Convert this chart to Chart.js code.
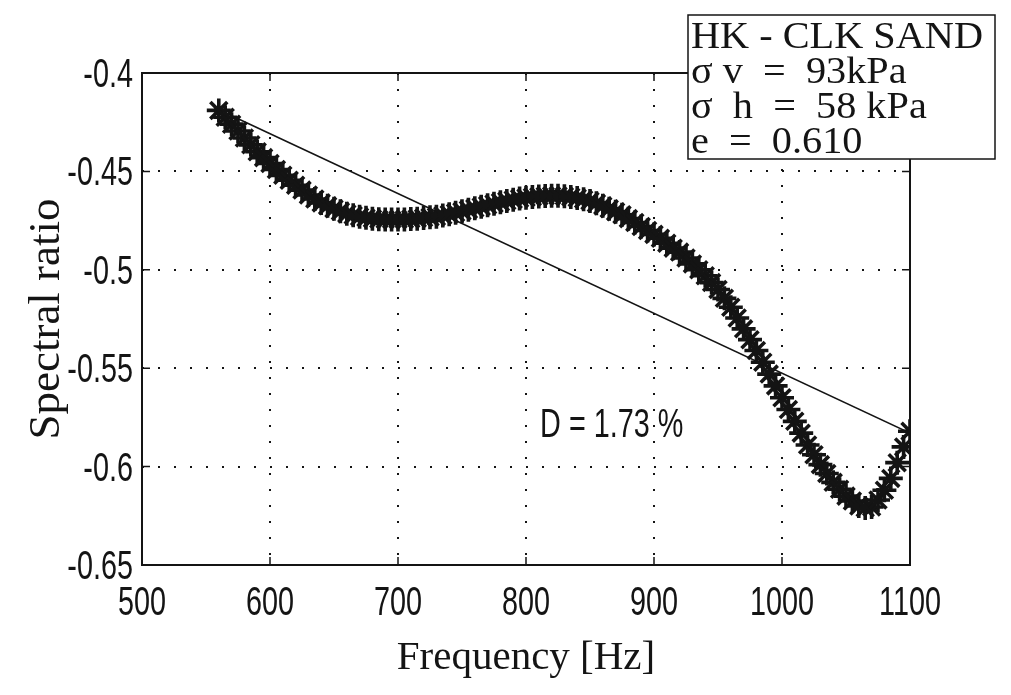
<!DOCTYPE html>
<html>
<head>
<meta charset="utf-8">
<script src="https://cdn.jsdelivr.net/npm/chart.js@4.4.1/dist/chart.umd.min.js"></script>
<style>
  html, body { margin: 0; padding: 0; background: #fff; }
  #wrap { width: 1011px; height: 695px; position: relative; }
</style>
</head>
<body>
<div id="wrap"><canvas id="c" width="1011" height="695"></canvas></div>
<script>
// ---- data ----
const frequency = [
  560, 565, 570, 575, 580, 585, 590, 595, 600, 605,
  610, 615, 620, 625, 630, 635, 640, 645, 650, 655,
  660, 665, 670, 675, 680, 685, 690, 695, 700, 705,
  710, 715, 720, 725, 730, 735, 740, 745, 750, 755,
  760, 765, 770, 775, 780, 785, 790, 795, 800, 805,
  810, 815, 820, 825, 830, 835, 840, 845, 850, 855,
  860, 865, 870, 875, 880, 885, 890, 895, 900, 905,
  910, 915, 920, 925, 930, 935, 940, 945, 950, 955,
  960, 965, 970, 975, 980, 985, 990, 995, 1000, 1005,
  1010, 1015, 1020, 1025, 1030, 1035, 1040, 1045, 1050, 1055,
  1060, 1065, 1070, 1075, 1080, 1085, 1090, 1095, 1100
];
const spectralRatio = [
  -0.419, -0.4225, -0.426, -0.4295, -0.433, -0.4365, -0.440, -0.443, -0.446, -0.449,
  -0.452, -0.4545, -0.457, -0.4595, -0.462, -0.464, -0.466, -0.4675, -0.469, -0.4703,
  -0.4715, -0.4723, -0.473, -0.4736, -0.474, -0.4743, -0.4745, -0.4745, -0.4745, -0.4744,
  -0.4742, -0.474, -0.4737, -0.4733, -0.473, -0.4724, -0.4718, -0.471, -0.4703, -0.4695,
  -0.4687, -0.468, -0.4672, -0.4664, -0.4657, -0.465, -0.4644, -0.4638, -0.4634, -0.463,
  -0.4627, -0.4625, -0.4624, -0.4624, -0.4626, -0.463, -0.4635, -0.4642, -0.465, -0.4662,
  -0.4675, -0.469, -0.4705, -0.472, -0.474, -0.476, -0.478, -0.480, -0.482, -0.484,
  -0.4865, -0.489, -0.491, -0.494, -0.497, -0.500, -0.503, -0.5065, -0.510, -0.5145,
  -0.519, -0.5245, -0.530, -0.5355, -0.541, -0.547, -0.553, -0.559, -0.565, -0.571,
  -0.577, -0.583, -0.589, -0.594, -0.599, -0.6035, -0.608, -0.6115, -0.615, -0.6175,
  -0.620, -0.621, -0.6205, -0.617, -0.612, -0.606, -0.598, -0.590, -0.582
];
const fitFrequency = [560, 1100];
const fitRatio = [-0.4187, -0.583];

const xTickValues = [500, 600, 700, 800, 900, 1000, 1100];
const xTickLabels = ['500', '600', '700', '800', '900', '1000', '1100'];
const yTickValues = [-0.65, -0.6, -0.55, -0.5, -0.45, -0.4];
const yTickLabels = ['-0.65', '-0.6', '-0.55', '-0.5', '-0.45', '-0.4'];

const infoLines = ['HK - CLK SAND', 'σ v  =  93kPa', 'σ  h  =  58 kPa', 'e  =  0.610'];
const dampingLabel = 'D = 1.73 %';
const dampingAnchor = { x: 811, y: -0.585 };

// ---- chart ----
const SANS = '"Liberation Sans", Arial, sans-serif';
const SERIF = '"Liberation Serif", "Times New Roman", serif';
const INK = '#141414';
const NARROW = 0.72;

const curvePts = frequency.map((f, i) => ({ x: f, y: spectralRatio[i] }));
const fitPts = fitFrequency.map((f, i) => ({ x: f, y: fitRatio[i] }));

function narrowText(ctx, text, x, y, align) {
  ctx.save();
  ctx.translate(x, y);
  ctx.scale(NARROW, 1);
  ctx.textAlign = align;
  ctx.fillText(text, 0, 0);
  ctx.restore();
}

const framePlugin = {
  id: 'frame',
  afterDraw(chart) {
    const { ctx, chartArea: a, scales } = chart;
    ctx.save();
    // box
    ctx.strokeStyle = INK;
    ctx.lineWidth = 2;
    ctx.setLineDash([]);
    ctx.strokeRect(a.left, a.top, a.right - a.left, a.bottom - a.top);
    // inward ticks on all four sides
    const tl = 8;
    ctx.lineWidth = 1.5;
    ctx.beginPath();
    xTickValues.forEach(v => {
      const px = scales.x.getPixelForValue(v);
      ctx.moveTo(px, a.bottom); ctx.lineTo(px, a.bottom - tl);
      ctx.moveTo(px, a.top); ctx.lineTo(px, a.top + tl);
    });
    yTickValues.forEach(v => {
      const py = scales.y.getPixelForValue(v);
      ctx.moveTo(a.left, py); ctx.lineTo(a.left + tl, py);
      ctx.moveTo(a.right, py); ctx.lineTo(a.right - tl, py);
    });
    ctx.stroke();

    // tick labels (narrow sans, like the original Helvetica Narrow)
    ctx.fillStyle = INK;
    ctx.font = '40px ' + SANS;
    ctx.textBaseline = 'alphabetic';
    xTickValues.forEach((v, i) => {
      narrowText(ctx, xTickLabels[i], scales.x.getPixelForValue(v), a.bottom + 50, 'center');
    });
    yTickValues.forEach((v, i) => {
      narrowText(ctx, yTickLabels[i], a.left - 9, scales.y.getPixelForValue(v) + 14, 'right');
    });

    // damping annotation
    narrowText(ctx, dampingLabel, scales.x.getPixelForValue(dampingAnchor.x), scales.y.getPixelForValue(dampingAnchor.y), 'left');

    // info box
    const bx = 688, by = 15, bw = 307, bh = 144;
    ctx.fillStyle = '#fff';
    ctx.fillRect(bx, by, bw, bh);
    ctx.strokeStyle = INK;
    ctx.lineWidth = 1.5;
    ctx.strokeRect(bx, by, bw, bh);
    ctx.fillStyle = INK;
    ctx.font = '38px ' + SERIF;
    ctx.textAlign = 'left';
    const baselines = [48, 83, 118, 153];
    infoLines.forEach((t, i) => {
      ctx.save();
      ctx.translate(bx + 3, baselines[i]);
      ctx.scale(1.06, 1);
      ctx.fillText(t, 0, 0);
      ctx.restore();
    });
    ctx.restore();
  }
};

new Chart(document.getElementById('c'), {
  type: 'scatter',
  data: {
    datasets: [
      {
        data: curvePts,
        showLine: false,
        pointStyle: 'star',
        pointRadius: 12,
        pointBorderWidth: 3.6,
        pointBorderColor: INK,
        pointBackgroundColor: INK
      },
      {
        data: fitPts,
        showLine: true,
        borderColor: INK,
        borderWidth: 1.6,
        pointRadius: 0,
        fill: false
      }
    ]
  },
  options: {
    responsive: false,
    animation: false,
    events: [],
    layout: { padding: { left: 0, top: 73, right: 101, bottom: 0 } },
    plugins: { legend: { display: false }, tooltip: { enabled: false } },
    scales: {
      x: {
        type: 'linear',
        min: 500, max: 1100,
        afterBuildTicks: s => { s.ticks = xTickValues.map(v => ({ value: v })); },
        afterFit: s => { s.height = 130; },
        ticks: { display: false },
        grid: { color: INK, lineWidth: 2, drawTicks: false },
        border: { display: false, dash: [2, 14] },
        title: {
          display: true,
          text: 'Frequency [Hz]',
          color: INK,
          font: { family: SERIF, size: 41 },
          padding: { top: 12, bottom: 12 }
        }
      },
      y: {
        type: 'linear',
        min: -0.65, max: -0.4,
        afterBuildTicks: s => { s.ticks = yTickValues.map(v => ({ value: v })); },
        afterFit: s => { s.width = 142; },
        ticks: { display: false },
        grid: { color: INK, lineWidth: 2, drawTicks: false },
        border: { display: false, dash: [2, 14] },
        title: {
          display: true,
          text: 'Spectral ratio',
          color: INK,
          font: { family: SERIF, size: 45 },
          padding: { top: 20, bottom: 0 }
        }
      }
    }
  },
  plugins: [framePlugin]
});
</script>
</body>
</html>
